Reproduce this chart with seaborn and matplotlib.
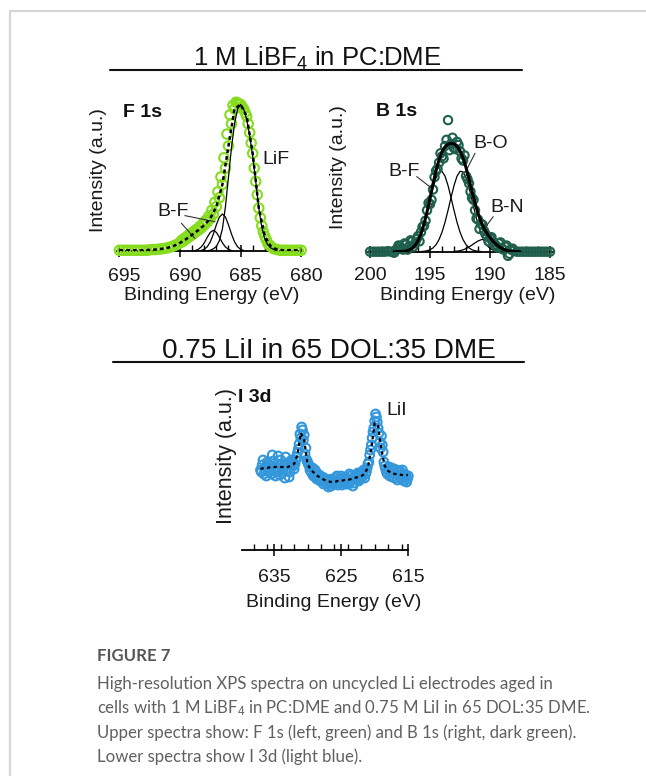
import matplotlib
matplotlib.use("Agg")
import matplotlib.pyplot as plt
import matplotlib.transforms as mtransforms
from matplotlib.lines import Line2D
from matplotlib.ticker import MultipleLocator
import seaborn as sns

# ---------------- data ----------------
f1s_energy = [695.0, 694.75, 694.5, 694.25, 694.0, 693.75, 693.5, 693.25, 693.0, 692.75,
              692.5, 692.25, 692.0, 691.75, 691.5, 691.25, 691.0, 690.75, 690.5, 690.25,
              690.0, 689.75, 689.5, 689.25, 689.0, 688.75, 688.5, 688.25, 688.0, 687.75,
              687.5, 687.25, 687.0, 686.75, 686.5, 686.25, 686.0, 685.75, 685.5, 685.25,
              685.0, 684.75, 684.5, 684.25, 684.0, 683.75, 683.5, 683.25, 683.0, 682.75,
              682.5, 682.25, 682.0, 681.75, 681.5, 681.25, 681.0, 680.75, 680.5, 680.25, 680.0]
f1s_counts = [0.005, 0.005, 0.005, 0.005, 0.005, 0.005, 0.005, 0.005, 0.005, 0.005,
              0.008, 0.010, 0.010, 0.012, 0.015, 0.018, 0.022, 0.028, 0.035, 0.045,
              0.055, 0.065, 0.080, 0.095, 0.110, 0.125, 0.140, 0.155, 0.175, 0.195,
              0.220, 0.250, 0.300, 0.360, 0.450, 0.560, 0.710, 0.860, 0.960, 1.000,
              0.990, 0.960, 0.910, 0.800, 0.660, 0.470, 0.290, 0.170, 0.100, 0.050,
              0.030, 0.015, 0.010, 0.005, 0.005, 0.005, 0.005, 0.005, 0.005, 0.005, 0.005]
f1s_energy_b = [689.875, 689.625, 689.375, 689.125, 688.875, 688.625, 688.375, 688.125,
                687.875, 687.625, 687.375, 687.125, 686.875, 686.625, 686.375, 686.125,
                685.875, 685.625, 685.375, 685.125, 684.875, 684.625, 684.375, 684.125,
                683.875, 683.625, 683.375, 683.125, 682.875, 682.625]
f1s_counts_b = [0.072, 0.087, 0.102, 0.117, 0.132, 0.147, 0.165, 0.185,
                0.207, 0.235, 0.275, 0.330, 0.400, 0.500, 0.630, 0.790,
                0.920, 0.985, 1.005, 0.995, 0.975, 0.935, 0.860, 0.730,
                0.560, 0.380, 0.225, 0.130, 0.075, 0.040]
f1s_fit_energy = [695.0, 694.5, 694.0, 693.5, 693.0, 692.5, 692.0, 691.5, 691.0, 690.5,
                  690.0, 689.5, 689.0, 688.5, 688.0, 687.5, 687.0, 686.5, 686.0, 685.5,
                  685.0, 684.5, 684.0, 683.5, 683.0, 682.5, 682.0, 681.5, 681.0, 680.5, 680.0]
f1s_fit = [0.005, 0.005, 0.005, 0.005, 0.005, 0.008, 0.010, 0.015, 0.022, 0.035,
           0.055, 0.080, 0.110, 0.140, 0.175, 0.220, 0.300, 0.450, 0.710, 0.960,
           0.990, 0.910, 0.660, 0.290, 0.100, 0.030, 0.010, 0.005, 0.005, 0.005, 0.005]
f1s_lif_energy = [688.0, 687.75, 687.5, 687.25, 687.0, 686.75, 686.5, 686.25, 686.0, 685.75,
                  685.5, 685.25, 685.0, 684.75, 684.5, 684.25, 684.0, 683.75, 683.5, 683.25,
                  683.0, 682.75, 682.5, 682.25, 682.0]
f1s_lif = [0.0, 0.002, 0.005, 0.015, 0.03, 0.07, 0.15, 0.30, 0.50, 0.70,
           0.86, 0.96, 0.99, 0.96, 0.89, 0.78, 0.64, 0.47, 0.29, 0.16,
           0.08, 0.04, 0.02, 0.01, 0.0]
f1s_bf1_energy = [688.25, 688.0, 687.75, 687.5, 687.25, 687.0, 686.75, 686.5, 686.25, 686.0,
                  685.75, 685.5, 685.25, 685.0, 684.75]
f1s_bf1 = [0.004, 0.011, 0.029, 0.062, 0.114, 0.177, 0.229, 0.25, 0.229, 0.177,
           0.114, 0.062, 0.029, 0.011, 0.004]
f1s_bf2_energy = [688.75, 688.5, 688.25, 688.0, 687.75, 687.5, 687.25, 687.0, 686.75, 686.5,
                  686.25, 686.0, 685.75]
f1s_bf2 = [0.003, 0.011, 0.027, 0.055, 0.093, 0.126, 0.14, 0.126, 0.093, 0.055,
           0.027, 0.011, 0.003]

b1s_energy = [200.0, 199.75, 199.5, 199.25, 199.0, 198.75, 198.5, 198.25, 198.0, 197.75,
              197.5, 197.25, 197.0, 196.75, 196.5, 196.25, 196.0, 195.75, 195.5, 195.25,
              195.0, 194.75, 194.5, 194.25, 194.0, 193.75, 193.5, 193.25, 193.0, 192.75,
              192.5, 192.25, 192.0, 191.75, 191.5, 191.25, 191.0, 190.75, 190.5, 190.25,
              190.0, 189.75, 189.5, 189.25, 189.0, 188.75, 188.5, 188.25, 188.0, 187.75,
              187.5, 187.25, 187.0, 186.75, 186.5, 186.25, 186.0, 185.75, 185.5, 185.25, 185.0]
b1s_counts = [0.0, 0.0, 0.0, 0.0, 0.0, 0.0, 0.005, 0.0, -0.01, 0.03,
              0.05, 0.02, 0.07, 0.05, 0.10, 0.08, 0.15, 0.19, 0.25, 0.40,
              0.46, 0.60, 0.78, 0.86, 0.92, 1.02, 1.27, 1.04, 1.00, 1.06,
              0.97, 0.88, 0.73, 0.66, 0.52, 0.40, 0.31, 0.27, 0.20, 0.15,
              0.13, 0.09, 0.06, 0.08, 0.03, 0.05, -0.04, 0.02, 0.01, 0.0,
              0.0, 0.0, 0.0, 0.0, 0.0, 0.0, 0.0, 0.0, 0.0, 0.0, 0.0]
b1s_energy_b = [197.875, 197.625, 197.375, 197.125, 196.875, 196.625, 196.375, 196.125,
                195.875, 195.625, 195.375, 195.125, 194.875, 194.625, 194.375, 194.125,
                193.875, 193.625, 193.375, 193.125, 192.875, 192.625, 192.375, 192.125,
                191.875, 191.625, 191.375, 191.125, 190.875, 190.625, 190.375, 190.125,
                189.875, 189.625, 189.375, 189.125, 188.875, 188.625, 188.375, 188.125]
b1s_counts_b = [0.01, 0.06, 0.03, 0.08, 0.02, 0.11, 0.05, 0.12,
                0.10, 0.24, 0.30, 0.47, 0.50, 0.72, 0.80, 0.95,
                0.90, 1.08, 0.98, 1.10, 0.99, 1.03, 0.90, 0.93,
                0.70, 0.58, 0.50, 0.32, 0.22, 0.26, 0.17, 0.10,
                0.14, 0.07, 0.04, 0.09, 0.02, 0.06, -0.02, 0.03]
b1s_fit_energy = [198.0, 197.75, 197.5, 197.25, 197.0, 196.75, 196.5, 196.25, 196.0, 195.75,
                  195.5, 195.25, 195.0, 194.75, 194.5, 194.25, 194.0, 193.75, 193.5, 193.25,
                  193.0, 192.75, 192.5, 192.25, 192.0, 191.75, 191.5, 191.25, 191.0, 190.75,
                  190.5, 190.25, 190.0, 189.75, 189.5, 189.25, 189.0, 188.75, 188.5, 188.25,
                  188.0, 187.75, 187.5]
b1s_fit = [0.0, 0.0, 0.001, 0.003, 0.007, 0.016, 0.032, 0.060, 0.106, 0.175,
           0.267, 0.384, 0.516, 0.654, 0.782, 0.887, 0.965, 1.013, 1.038, 1.046,
           1.041, 1.018, 0.975, 0.905, 0.812, 0.700, 0.581, 0.469, 0.370, 0.290,
           0.226, 0.175, 0.135, 0.101, 0.072, 0.049, 0.031, 0.018, 0.010, 0.005,
           0.003, 0.0, 0.0]
b1s_bf_energy = [197.5, 197.25, 197.0, 196.75, 196.5, 196.25, 196.0, 195.75, 195.5, 195.25,
                 195.0, 194.75, 194.5, 194.25, 194.0, 193.75, 193.5, 193.25, 193.0, 192.75,
                 192.5, 192.25, 192.0, 191.75, 191.5, 191.25, 191.0, 190.75]
b1s_bf = [0.001, 0.003, 0.007, 0.016, 0.032, 0.060, 0.106, 0.173, 0.263, 0.375,
          0.498, 0.617, 0.714, 0.770, 0.776, 0.729, 0.639, 0.523, 0.399, 0.284,
          0.189, 0.117, 0.068, 0.037, 0.018, 0.009, 0.004, 0.002]
b1s_bo_energy = [195.75, 195.5, 195.25, 195.0, 194.75, 194.5, 194.25, 194.0, 193.75, 193.5,
                 193.25, 193.0, 192.75, 192.5, 192.25, 192.0, 191.75, 191.5, 191.25, 191.0,
                 190.75, 190.5, 190.25, 190.0, 189.75, 189.5, 189.25, 189.0]
b1s_bo = [0.002, 0.004, 0.009, 0.018, 0.037, 0.068, 0.117, 0.189, 0.284, 0.399,
          0.523, 0.639, 0.729, 0.776, 0.770, 0.714, 0.617, 0.498, 0.375, 0.263,
          0.173, 0.106, 0.060, 0.032, 0.016, 0.007, 0.003, 0.001]
b1s_bn_energy = [193.0, 192.75, 192.5, 192.25, 192.0, 191.75, 191.5, 191.25, 191.0, 190.75,
                 190.5, 190.25, 190.0, 189.75, 189.5, 189.25, 189.0, 188.75, 188.5, 188.25, 188.0]
b1s_bn = [0.003, 0.005, 0.010, 0.018, 0.030, 0.046, 0.065, 0.085, 0.103, 0.115,
          0.120, 0.115, 0.103, 0.085, 0.065, 0.046, 0.030, 0.018, 0.010, 0.005, 0.003]

i3d_energy = [637.0, 636.75, 636.5, 636.25, 636.0, 635.75, 635.5, 635.25,
              635.0, 634.75, 634.5, 634.25, 634.0, 633.75, 633.5, 633.25,
              633.0, 632.75, 632.5, 632.25, 632.0, 631.75, 631.5, 631.25,
              631.0, 630.75, 630.5, 630.25, 630.0, 629.75, 629.5, 629.25,
              629.0, 628.75, 628.5, 628.25, 628.0, 627.75, 627.5, 627.25,
              627.0, 626.75, 626.5, 626.25, 626.0, 625.75, 625.5, 625.25,
              625.0, 624.75, 624.5, 624.25, 624.0, 623.75, 623.5, 623.25,
              623.0, 622.75, 622.5, 622.25, 622.0, 621.75, 621.5, 621.25,
              621.0, 620.75, 620.5, 620.25, 620.0, 619.75, 619.5, 619.25,
              619.0, 618.75, 618.5, 618.25, 618.0, 617.75, 617.5, 617.25,
              617.0, 616.75, 616.5, 616.25, 616.0, 615.75, 615.5, 615.25, 615.0]
i3d_counts = [0.80, 0.85, 0.76, 0.83, 0.88, 0.78, 0.84, 0.95,
              0.80, 0.74, 0.86, 0.82, 0.90, 0.77, 0.84, 0.93,
              0.79, 0.73, 0.85, 0.88, 0.81, 0.90, 0.97, 1.06,
              1.12, 1.20, 1.15, 1.02, 0.88, 0.84, 0.79, 0.82,
              0.76, 0.78, 0.72, 0.75, 0.70, 0.73, 0.68, 0.71,
              0.66, 0.70, 0.64, 0.69, 0.67, 0.72, 0.65, 0.70,
              0.74, 0.68, 0.72, 0.66, 0.70, 0.76, 0.69, 0.64,
              0.73, 0.70, 0.77, 0.71, 0.74, 0.79, 0.72, 0.78,
              0.86, 0.95, 1.05, 1.18, 1.29, 1.33, 1.22, 1.08,
              1.14, 0.98, 0.84, 0.78, 0.80, 0.74, 0.82, 0.77,
              0.72, 0.80, 0.75, 0.79, 0.71, 0.76, 0.73, 0.68, 0.74]
i3d_energy_b = [636.875, 636.625, 636.375, 636.125, 635.875, 635.625, 635.375, 635.125,
                634.875, 634.625, 634.375, 634.125, 633.875, 633.625, 633.375, 633.125,
                632.875, 632.625, 632.375, 632.125, 631.875, 631.625, 631.375, 631.125,
                630.875, 630.625, 630.375, 630.125, 629.875, 629.625, 629.375, 629.125,
                628.875, 628.625, 628.375, 628.125, 627.875, 627.625, 627.375, 627.125,
                626.875, 626.625, 626.375, 626.125, 625.875, 625.625, 625.375, 625.125,
                624.875, 624.625, 624.375, 624.125, 623.875, 623.625, 623.375, 623.125,
                622.875, 622.625, 622.375, 622.125, 621.875, 621.625, 621.375, 621.125,
                620.875, 620.625, 620.375, 620.125, 619.875, 619.625, 619.375, 619.125,
                618.875, 618.625, 618.375, 618.125, 617.875, 617.625, 617.375, 617.125,
                616.875, 616.625, 616.375, 616.125, 615.875, 615.625, 615.375, 615.125]
i3d_counts_b = [0.78, 0.90, 0.81, 0.74, 0.86, 0.80, 0.76, 0.89,
                0.83, 0.78, 0.94, 0.75, 0.85, 0.80, 0.72, 0.87,
                0.82, 0.78, 0.90, 0.84, 0.86, 0.93, 1.01, 1.16,
                1.23, 1.10, 0.96, 0.90, 0.86, 0.80, 0.77, 0.74,
                0.80, 0.71, 0.74, 0.69, 0.72, 0.66, 0.70, 0.67,
                0.63, 0.68, 0.71, 0.66, 0.69, 0.74, 0.67, 0.71,
                0.65, 0.70, 0.73, 0.68, 0.66, 0.74, 0.71, 0.67,
                0.75, 0.72, 0.69, 0.77, 0.73, 0.80, 0.76, 0.82,
                0.88, 1.00, 1.12, 1.22, 1.36, 1.28, 1.17, 1.02,
                1.05, 0.88, 0.81, 0.76, 0.83, 0.78, 0.73, 0.81,
                0.76, 0.70, 0.78, 0.74, 0.80, 0.69, 0.75, 0.71]
i3d_fit_energy = [637.0, 636.5, 636.0, 635.5, 635.0, 634.5, 634.0, 633.5, 633.0, 632.5,
                  632.0, 631.5, 631.0, 630.5, 630.0, 629.5, 629.0, 628.5, 628.0, 627.5,
                  627.0, 626.5, 626.0, 625.5, 625.0, 624.5, 624.0, 623.5, 623.0, 622.5,
                  622.0, 621.5, 621.0, 620.5, 620.0, 619.5, 619.0, 618.5, 618.0, 617.5,
                  617.0, 616.5, 616.0, 615.5, 615.0]
i3d_fit = [0.81, 0.82, 0.82, 0.83, 0.83, 0.83, 0.83, 0.83, 0.83, 0.84,
           0.86, 0.95, 1.17, 1.10, 0.86, 0.80, 0.77, 0.74, 0.72, 0.70,
           0.69, 0.68, 0.68, 0.69, 0.69, 0.70, 0.70, 0.71, 0.72, 0.73,
           0.74, 0.76, 0.83, 1.02, 1.27, 1.24, 1.00, 0.84, 0.79, 0.77,
           0.76, 0.76, 0.75, 0.75, 0.75]

f1s_ticks = [695, 690, 685, 680]
b1s_ticks = [200, 195, 190, 185]
i3d_ticks = [635, 625, 615]

# ---------------- style ----------------
sns.set_theme(style="ticks")
plt.rcParams['font.family'] = ['Liberation Sans', 'DejaVu Sans']
plt.rcParams['mathtext.fontset'] = 'custom'
plt.rcParams['mathtext.rm'] = 'Liberation Sans'
plt.rcParams['mathtext.it'] = 'Liberation Sans:italic'
plt.rcParams['mathtext.bf'] = 'Liberation Sans:bold'

LIME = '#86dc1e'
DKGREEN = '#1f5f4c'
BLUE = '#3497dc'
W, H = 646, 776
fig = plt.figure(figsize=(W / 100, H / 100), dpi=100)
fig.patch.set_facecolor('white')


def fx(px):
    return px / W


def fy(py):
    return 1 - py / H


def add_axes(l, t, r, b):
    return fig.add_axes([fx(l), fy(b), (r - l) / W, (b - t) / H])


def style_axis(ax, ticks, minor, pad, size):
    sns.despine(ax=ax, left=True, top=True, right=True)
    ax.set_facecolor('none')
    ax.set_yticks([])
    ax.set_xticks(ticks)
    ax.xaxis.set_minor_locator(MultipleLocator(minor))
    ax.spines['bottom'].set_color('black')
    ax.spines['bottom'].set_linewidth(1.3)
    ax.tick_params(axis='x', which='major', bottom=True, direction='inout', length=8,
                   width=1.1, color='black', labelsize=size, pad=pad, labelcolor='#1a1a1a')
    ax.tick_params(axis='x', which='minor', bottom=True, direction='in', length=4,
                   width=1.0, color='black')


def leader(ax, p0, p1):
    ax.annotate('', xy=p1, xytext=p0,
                arrowprops=dict(arrowstyle='-', lw=0.8, color='#333333', shrinkA=0, shrinkB=0))


def circles(ax, x, y, color, s):
    sns.scatterplot(x=x, y=y, ax=ax, marker='o', s=s, facecolors='none',
                    edgecolor=color, linewidth=1.5, clip_on=False, zorder=3)


# ---------------- F 1s ----------------
ax1 = add_axes(117, 99, 303, 251)
circles(ax1, f1s_energy, f1s_counts, LIME, 46)
circles(ax1, f1s_energy_b, f1s_counts_b, LIME, 46)
for e, v in [(f1s_lif_energy, f1s_lif), (f1s_bf1_energy, f1s_bf1), (f1s_bf2_energy, f1s_bf2)]:
    sns.lineplot(x=e, y=v, ax=ax1, color='black', lw=0.9, sort=False, estimator=None, zorder=4)
sns.lineplot(x=f1s_fit_energy, y=f1s_fit, ax=ax1, color='black', lw=1.8, sort=False,
             estimator=None, zorder=5, linestyle=(0, (1.5, 1.2)))
ax1.set_xlim(695.2, 679.85)
ax1.set_ylim(0, 1.027)
style_axis(ax1, f1s_ticks, 1, 8, 14)
off = mtransforms.ScaledTranslation(0.05, 0, fig.dpi_scale_trans)
for lbl in ax1.get_xticklabels():
    lbl.set_transform(lbl.get_transform() + off)
ax1.set_xlabel('Binding Energy (eV)', fontsize=14, color='#1a1a1a')
ax1.xaxis.set_label_coords(0.511, -0.292)
ax1.xaxis.label.set_va('center')
ax1.set_ylabel('Intensity (a.u.)', fontsize=14, color='#1a1a1a')
ax1.yaxis.set_label_coords(-0.097, 0.533)
ax1.yaxis.label.set_va('center')
ax1.text(0.032, 0.914, 'F 1s', transform=ax1.transAxes, fontsize=14, fontweight='bold',
         ha='left', va='center', color='#111111')
ax1.text(683.24, 0.615, 'LiF', fontsize=14, ha='left', va='center', color='#1a1a1a')
ax1.text(691.83, 0.27, 'B-F', fontsize=14, ha='left', va='center', color='#1a1a1a')
leader(ax1, (689.6, 0.239), (687.12, 0.198))
leader(ax1, (689.88, 0.187), (688.78, 0.086))

# ---------------- B 1s ----------------
ax2 = add_axes(368, 99, 553, 251.7)
for e, v in [(b1s_bf_energy, b1s_bf), (b1s_bo_energy, b1s_bo), (b1s_bn_energy, b1s_bn)]:
    sns.lineplot(x=e, y=v, ax=ax2, color='black', lw=0.9, sort=False, estimator=None, zorder=3)
sns.lineplot(x=b1s_fit_energy, y=b1s_fit, ax=ax2, color='black', lw=2.2, sort=False,
             estimator=None, zorder=3.5)
circles(ax2, b1s_energy, b1s_counts, DKGREEN, 36)
circles(ax2, b1s_energy_b, b1s_counts_b, DKGREEN, 36)
ax2.set_xlim(200.17, 184.75)
ax2.set_ylim(0, 1.474)
style_axis(ax2, b1s_ticks, 1, 7, 14)
ax2.set_xlabel('Binding Energy (eV)', fontsize=14, color='#1a1a1a')
ax2.xaxis.set_label_coords(0.541, -0.29)
ax2.xaxis.label.set_va('center')
ax2.set_ylabel('Intensity (a.u.)', fontsize=14, color='#1a1a1a')
ax2.yaxis.set_label_coords(-0.157, 0.555)
ax2.yaxis.label.set_va('center')
ax2.text(0.043, 0.921, 'B 1s', transform=ax2.transAxes, fontsize=14, fontweight='bold',
         ha='left', va='center', color='#111111')
ax2.text(191.42, 1.04, 'B-O', fontsize=14, ha='left', va='center', color='#1a1a1a')
ax2.text(198.5, 0.77, 'B-F', fontsize=14, ha='left', va='center', color='#1a1a1a')
ax2.text(190.0, 0.43, 'B-N', fontsize=14, ha='left', va='center', color='#1a1a1a')
leader(ax2, (196.11, 0.725), (194.86, 0.613))
leader(ax2, (191.25, 0.95), (191.89, 0.805))
leader(ax2, (189.73, 0.338), (190.56, 0.21))

# ---------------- I 3d ----------------
ax3 = add_axes(241.7, 390, 408.3, 550)
circles(ax3, i3d_energy, i3d_counts, BLUE, 40)
circles(ax3, i3d_energy_b, i3d_counts_b, BLUE, 40)
sns.lineplot(x=i3d_fit_energy, y=i3d_fit, ax=ax3, color='black', lw=1.6, sort=False,
             estimator=None, zorder=4, linestyle=(0, (1.5, 1.5)))
ax3.set_xlim(639.8, 615)
ax3.set_ylim(0, 1.6)
style_axis(ax3, i3d_ticks, 2, 10, 14)
ax3.set_xlabel('Binding Energy (eV)', fontsize=14, color='#1a1a1a')
ax3.xaxis.set_label_coords(0.554, -0.331)
ax3.xaxis.label.set_va('center')
ax3.set_ylabel('Intensity (a.u.)', fontsize=15.5, color='#1a1a1a')
ax3.yaxis.set_label_coords(-0.09, 0.5875)
ax3.yaxis.label.set_va('center')
ax3.text(-0.022, 0.956, 'I 3d', transform=ax3.transAxes, fontsize=14, fontweight='bold',
         ha='left', va='center', color='#111111')
ax3.text(616.68, 1.40, 'LiI', fontsize=14, ha='center', va='center', color='#1a1a1a')

# ---------------- titles, frame, caption ----------------
fig.text(fx(317), fy(66), '1 M LiBF$_4$ in PC:DME', fontsize=18.5, ha='center',
         va='baseline', color='#111111')
fig.add_artist(Line2D([fx(110), fx(522)], [fy(70), fy(70)], color='#111111', lw=1.5))
fig.text(fx(329), fy(358), '0.75 LiI in 65 DOL:35 DME', fontsize=20.2, ha='center',
         va='baseline', color='#111111')
fig.add_artist(Line2D([fx(113), fx(524)], [fy(362), fy(362)], color='#111111', lw=1.5))

fig.add_artist(Line2D([fx(10), fx(646)], [fy(11), fy(11)], color='#d6d6d6', lw=1.6))
fig.add_artist(Line2D([fx(10), fx(10)], [fy(11), fy(776)], color='#d6d6d6', lw=1.6))

cap = dict(fontsize=12.1, color='#606060', ha='left', va='baseline', family=['Lato', 'DejaVu Sans'])
fig.text(fx(97), fy(661), 'FIGURE 7', fontweight='bold', **{**cap, 'color': '#555555'})
fig.text(fx(97), fy(689), 'High-resolution XPS spectra on uncycled Li electrodes aged in', **cap)
fig.text(fx(97), fy(713), 'cells with 1 M LiBF$_4$ in PC:DME and 0.75 M LiI in 65 DOL:35 DME.', **cap)
fig.text(fx(97), fy(738), 'Upper spectra show: F 1s (left, green) and B 1s (right, dark green).', **cap)
fig.text(fx(97), fy(762), 'Lower spectra show I 3d (light blue).', **cap)

fig.savefig('out.png', dpi=100, facecolor='white')
